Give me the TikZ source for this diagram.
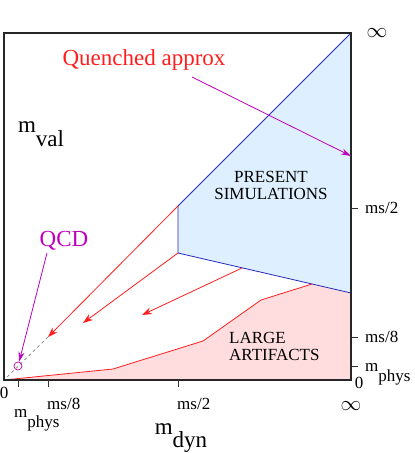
\documentclass[tikz,border=0pt]{standalone}
\usepackage{fontspec}
\setmainfont{Liberation Serif}
\usetikzlibrary{arrows.meta,positioning}
\definecolor{qred}{RGB}{255,30,30}
\definecolor{qmag}{RGB}{190,0,190}
\definecolor{qblue}{RGB}{40,40,190}
\definecolor{simfill}{RGB}{222,240,255}
\definecolor{artfill}{RGB}{255,221,223}
\newcommand{\lowsub}[2]{#1\raisebox{-0.6em}{#2}}

\begin{document}
\begin{tikzpicture}[x=1pt, y=-1pt,
  axlbl/.style={font=\fontsize{17}{17}\selectfont, inner sep=0pt},
  biglbl/.style={font=\fontsize{23}{23}\selectfont, inner sep=0pt},
  inflbl/.style={font=\fontsize{22}{22}\selectfont, inner sep=0pt},
  tick/.style={line width=0.8pt, black!80},
  redline/.style={qred, line width=0.8pt},
  redarrow/.style={qred, line width=0.8pt, -{Stealth[length=10pt, width=7pt]}},
  magarrow/.style={qmag, line width=0.8pt, -{Stealth[length=10pt, width=6pt]}}
]
  \useasboundingbox (0,0) rectangle (415,453);

  %% Corner points of the regions
  \coordinate (orig)  at (4,380);
  \coordinate (topr)  at (351,33);
  \coordinate (simA)  at (178,206);
  \coordinate (simB)  at (178,253);
  \coordinate (simC)  at (351,293);
  \coordinate (botr)  at (351,380);
  \coordinate (artA)  at (113,369);
  \coordinate (artB)  at (203,341);
  \coordinate (artC)  at (261,300);
  \coordinate (artD)  at (312,284);

  %% Regions
  \fill[simfill] (simA) -- (topr) -- (simC) -- (simB) -- cycle;
  \fill[artfill] (orig) -- (artA) -- (artB) -- (artC) -- (artD) -- (simC) -- (botr) -- cycle;

  %% Region borders
  \draw[qblue, line width=0.8pt] (simA) -- (topr);
  \draw[qblue, line width=0.8pt] (simA) -- (simB) -- (simC);
  \draw[redline] (orig) -- (artA) -- (artB) -- (artC) -- (artD);

  %% Red arrows towards the chiral limit
  \coordinate (tipA)  at (48,337);
  \coordinate (tipB)  at (83,323);
  \coordinate (startC) at (242,268);
  \coordinate (tipC)  at (142,315);
  \draw[redarrow] (simA) -- (tipA);
  \draw[redarrow] (simB) -- (tipB);
  \draw[redarrow] (startC) -- (tipC);
  \draw[gray, dashed, line width=0.7pt] (tipA) -- (orig);

  %% Frame
  \draw[line width=1.6pt, black!85] (4,33) rectangle (351,380);

  %% Ticks
  \foreach \t in {18,48,178} \draw[tick] (\t,380) -- (\t,387);
  \foreach \t in {208,337,366} \draw[tick] (351,\t) -- (358,\t);

  %% Tick labels, bottom
  \node[axlbl] (xzero) at (4,393) {0};
  \node[axlbl, anchor=west] (xphys) at (14,420) {\lowsub{m}{phys}};
  \node[axlbl, anchor=west] (xms8) at (47,404) {ms/8};
  \node[axlbl, anchor=west] (xms2) at (177,404) {ms/2};
  \node[inflbl] (xinf) at (351,406) {$\infty$};

  %% Tick labels, right
  \node[axlbl] (yzero) at (359,383) {0};
  \node[axlbl, anchor=west] (yphys) at (365,374) {\lowsub{m}{phys}};
  \node[axlbl, anchor=west] (yms8) at (365,337) {ms/8};
  \node[axlbl, anchor=west] (yms2) at (365,208) {ms/2};
  \node[inflbl] (yinf) at (377,33) {$\infty$};

  %% Axis titles
  \node[biglbl] (mdyn) at (181,438) {\lowsub{m}{dyn}};
  \node[biglbl] (mval) at (41,134) {\lowsub{m}{val}};

  %% Region labels
  \node[axlbl, align=center] (present) at (271,185) {PRESENT\\SIMULATIONS};
  \node[axlbl, align=left, anchor=west] (large) at (229,346) {LARGE\\ARTIFACTS};

  %% Quenched approx
  \node[biglbl, text=qred] (quenched) at (144,60) {Quenched approx};
  \coordinate (qfoot) at (192,77);
  \coordinate (qtip) at (351,156);
  \draw[magarrow] (qfoot) -- (qtip);

  %% QCD point
  \node[biglbl, text=qmag] (qcd) at (64,241) {QCD};
  \node[circle, draw=qmag, line width=0.7pt, minimum size=8pt, inner sep=0pt] (physpt) at (18,366) {};
  \coordinate (qcdfoot) at (47,253);
  \draw[magarrow] (qcdfoot) -- (physpt);
\end{tikzpicture}
\end{document}
